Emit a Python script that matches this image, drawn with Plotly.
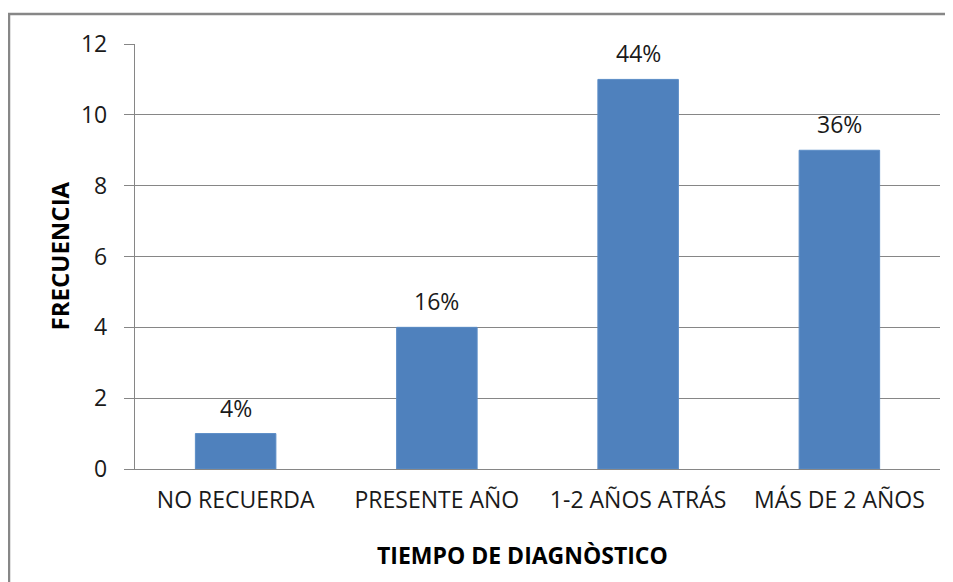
import plotly.graph_objects as go

categorias = ["NO RECUERDA", "PRESENTE AÑO", "1-2 AÑOS ATRÁS", "MÁS DE 2 AÑOS"]
frecuencia = [1, 4, 11, 9]
y_ticks = [0, 2, 4, 6, 8, 10, 12]

total = sum(frecuencia)
porcentajes = [f"{round(v / total * 100)}%" for v in frecuencia]

FONT = "Open Sans, sans-serif"
GRID = "#868686"
BAR = "#4F81BD"

# page body adds 8px offset, so figure is 8px smaller than window
W, H = 945, 574
L, R, T, B = 127, 13, 36, 113
pw, ph = W - L - R, H - T - B

fig = go.Figure()
fig.add_trace(go.Bar(
    x=categorias, y=frecuencia,
    marker=dict(color=BAR, line=dict(color="#5B8CC6", width=1)),
    width=0.4,
    hoverinfo="x+y",
))

for c, v, p in zip(categorias, frecuencia, porcentajes):
    fig.add_annotation(x=c, y=v, text=p, showarrow=False, yshift=26,
                       font=dict(family=FONT, size=23, color="#1a1a1a"))

# axis titles
fig.add_annotation(xref="paper", yref="paper", x=(51 - L) / pw, y=0.5,
                   xanchor="center", yanchor="middle",
                   text="<b>FRECUENCIA</b>", textangle=-90, showarrow=False,
                   font=dict(family=FONT, size=24, color="#000000"))
fig.add_annotation(xref="paper", yref="paper", x=(514 - L) / pw,
                   y=-(547 - (T + ph)) / ph,
                   xanchor="center", yanchor="middle",
                   text="<b>TIEMPO DE DIAGNÒSTICO</b>", showarrow=False,
                   font=dict(family=FONT, size=23, color="#000000"))

# outer frame
fig.add_shape(type="rect", xref="paper", yref="paper",
              x0=(1 - L) / pw, x1=1.2, y0=-0.6, y1=1 + (T - 6) / ph,
              line=dict(color="#878787", width=2.5), fillcolor="rgba(0,0,0,0)",
              layer="below")

fig.update_layout(
    width=W, height=H,
    margin=dict(l=L, r=R, t=T, b=B),
    plot_bgcolor="white", paper_bgcolor="white",
    font=dict(family=FONT, size=23, color="#1a1a1a"),
    showlegend=False,
    xaxis=dict(
        showgrid=False, showline=True, linecolor=GRID, linewidth=1.3,
        ticks="outside", ticklen=10, tickcolor="rgba(0,0,0,0)",
        tickfont=dict(family=FONT, size=23, color="#1a1a1a"),
    ),
    yaxis=dict(
        range=[0, 12], tickvals=y_ticks,
        showgrid=True, gridcolor=GRID, gridwidth=1.3,
        showline=True, linecolor=GRID, linewidth=1.3,
        zeroline=False,
        ticks="outside", ticklen=10, tickcolor=GRID, tickwidth=1.3,
        ticklabelstandoff=12,
        tickfont=dict(family=FONT, size=23, color="#1a1a1a"),
    ),
)

fig.write_html("out.html")
